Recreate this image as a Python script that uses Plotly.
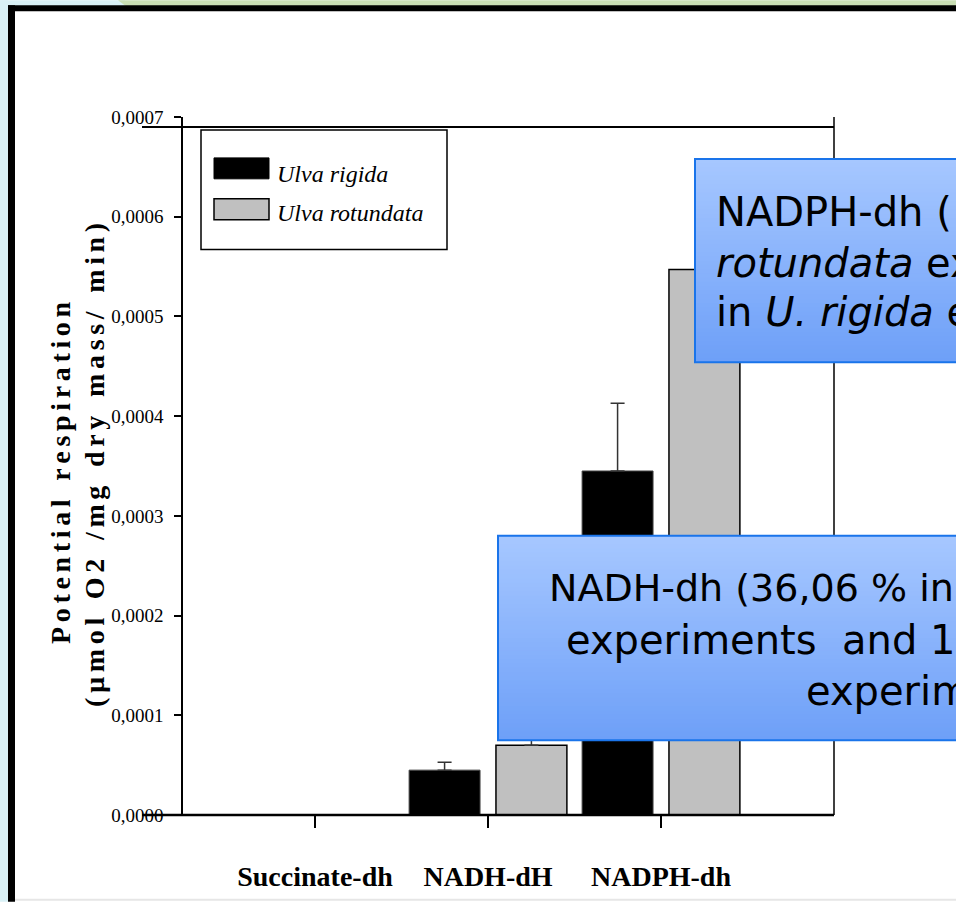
import plotly.graph_objects as go

# ---- data -------------------------------------------------------------
categories = ["Succinate-dh", "NADH-dH", "NADPH-dh"]
ulva_rigida = [0.0, 0.000045, 0.000345]
ulva_rigida_err = [0.0, 0.000008, 0.000068]
ulva_rotundata = [0.0, 0.000070, 0.000547]
ulva_rotundata_err = [0.0, 0.000012, 0.000050]
y_tick_vals = [0.0, 0.0001, 0.0002, 0.0003, 0.0004, 0.0005, 0.0006, 0.0007]
y_tick_text = ["0,0000", "0,0001", "0,0002", "0,0003", "0,0004", "0,0005", "0,0006", "0,0007"]

W, H = 956, 904
L, R, T, B = 183, 834, 117, 817          # plot area in pixels


def px(x):
    return (x - L) / (R - L)


def py(y):
    return (B - y) / (B - T)


x_pos = list(range(len(categories)))
bar_w = 0.41

fig = go.Figure()
fig.add_trace(go.Bar(
    x=x_pos, y=ulva_rigida, name="Ulva rigida", width=bar_w, offset=-0.456,
    marker=dict(color="black", line=dict(color="#444444", width=1)),
    error_y=dict(type="data", symmetric=False, array=ulva_rigida_err,
                 arrayminus=[0] * 3, color="#333333", thickness=1.5, width=7),
    showlegend=False,
))
fig.add_trace(go.Bar(
    x=x_pos, y=ulva_rotundata, name="Ulva rotundata", width=bar_w, offset=0.046,
    marker=dict(color="#c0c0c0", line=dict(color="black", width=1.5)),
    error_y=dict(type="data", symmetric=False, array=ulva_rotundata_err,
                 arrayminus=[0] * 3, color="#333333", thickness=1.5, width=7),
    showlegend=False,
))

serif = "Liberation Serif"

fig.update_layout(
    width=W, height=H, autosize=False,
    margin=dict(l=L, r=W - R, t=T, b=H - B, pad=0),
    paper_bgcolor="white", plot_bgcolor="rgba(0,0,0,0)",
    barmode="overlay",
    xaxis=dict(
        range=[-0.763, 3.0], tickvals=x_pos, ticktext=categories,
        ticks="outside", ticklen=12, tickwidth=1.5, tickcolor="black",
        showline=False, showgrid=False, zeroline=False,
        tickfont=dict(family=serif, size=28, color="black", weight="bold"),
        ticklabelstandoff=24,
    ),
    yaxis=dict(
        range=[0, 0.0007], tickvals=y_tick_vals, ticktext=y_tick_text,
        ticks="outside", ticklen=7, tickwidth=1.5, tickcolor="black",
        showline=True, linecolor="black", linewidth=1.5,
        showgrid=False, zeroline=False,
        tickfont=dict(family=serif, size=19, color="black"),
        ticklabelstandoff=7,
    ),
)

shapes = []

# page decoration: coloured strips and thick black border
shapes.append(dict(type="rect", xref="paper", yref="paper", layer="below",
                   x0=px(0), x1=px(8), y0=py(H), y1=py(0),
                   fillcolor="#d9f1f6", line=dict(width=0)))
shapes.append(dict(type="rect", xref="paper", yref="paper", layer="below",
                   x0=px(0), x1=px(125), y0=py(6), y1=py(0),
                   fillcolor="#d9f1f6", line=dict(width=0)))
shapes.append(dict(type="path", xref="paper", yref="paper", layer="below",
                   path=(f"M {px(118)} {py(0)} L {px(W)} {py(0)} L {px(W)} {py(6)} "
                         f"L {px(126)} {py(6)} Z"),
                   fillcolor="#c9deb4", line=dict(width=0)))
shapes.append(dict(type="rect", xref="paper", yref="paper", layer="below",
                   x0=px(8), x1=px(15), y0=py(H), y1=py(5),
                   fillcolor="black", line=dict(width=0)))
shapes.append(dict(type="rect", xref="paper", yref="paper", layer="below",
                   x0=px(8), x1=px(W), y0=py(11), y1=py(5),
                   fillcolor="black", line=dict(width=0)))
shapes.append(dict(type="line", xref="paper", yref="paper", layer="below",
                   x0=px(15), x1=px(W), y0=py(902), y1=py(902),
                   line=dict(color="#e6e6e6", width=2)))

# chart frame: top, bottom and right lines
shapes.append(dict(type="line", xref="paper", yref="paper", layer="above",
                   x0=px(142), x1=px(R), y0=py(127), y1=py(127),
                   line=dict(color="black", width=2)))
shapes.append(dict(type="line", xref="paper", yref="paper", layer="above",
                   x0=px(142), x1=px(R), y0=0, y1=0,
                   line=dict(color="black", width=2.5)))
shapes.append(dict(type="line", xref="paper", yref="paper", layer="above",
                   x0=1, x1=1, y0=0, y1=1,
                   line=dict(color="black", width=1.5)))

# legend box and swatches
shapes.append(dict(type="rect", xref="paper", yref="paper", layer="above",
                   x0=px(201), x1=px(447), y0=py(250), y1=py(130),
                   fillcolor="white", line=dict(color="black", width=1.5)))
shapes.append(dict(type="rect", xref="paper", yref="paper", layer="above",
                   x0=px(214), x1=px(269), y0=py(179), y1=py(158),
                   fillcolor="black", line=dict(color="black", width=1)))
shapes.append(dict(type="rect", xref="paper", yref="paper", layer="above",
                   x0=px(214), x1=px(269), y0=py(220), y1=py(199),
                   fillcolor="#c0c0c0", line=dict(color="black", width=1.5)))


def gradient_box(x0, x1, y0, y1, top_rgb, bot_rgb, n=48):
    """Blue callout box with a vertical gradient fill."""
    out = []
    step = (y1 - y0) / n
    for i in range(n):
        t = i / (n - 1)
        c = tuple(round(a + (b - a) * t) for a, b in zip(top_rgb, bot_rgb))
        ya = y0 + i * step
        yb = min(y1, ya + step + 0.8)
        out.append(dict(type="rect", xref="paper", yref="paper", layer="above",
                        x0=px(x0), x1=px(x1), y0=py(yb), y1=py(ya),
                        fillcolor=f"rgb{c}", line=dict(width=0)))
    out.append(dict(type="rect", xref="paper", yref="paper", layer="above",
                    x0=px(x0), x1=px(x1), y0=py(y1), y1=py(y0),
                    fillcolor="rgba(0,0,0,0)", line=dict(color="#1a74ea", width=2)))
    return out


shapes += gradient_box(695, 1010, 159, 363, (166, 199, 255), (110, 160, 248))
shapes += gradient_box(498, 1010, 537, 742, (166, 199, 255), (110, 160, 248))

fig.update_layout(shapes=shapes)

annotations = []


def text_at(x, baseline, text, size, family, color="black", weight="normal",
            style="normal", ratio=0.35):
    annotations.append(dict(
        xref="paper", yref="paper", x=px(x), y=py(baseline - ratio * size),
        xanchor="left", yanchor="middle", text=text, showarrow=False,
        font=dict(family=family, size=size, color=color, weight=weight, style=style),
    ))


# legend labels
text_at(275, 183, "Ulva rigida", 24, serif, style="italic")
text_at(275, 222, "Ulva rotundata", 24, serif, style="italic")

# y-axis title (two rotated lines, letter-spaced)
gap = "\u2006"
word_gap = "\u2006\u2006\u2006\u2006"


def spaced(words):
    return word_gap.join(gap.join(w) for w in words)


y_title_1 = spaced(["Potential", "respiration"])
y_title_2 = spaced(["(µmol", "O2", "/mg", "dry", "mass/", "min)"])

annotations.append(dict(
    xref="paper", yref="paper", x=px(61), y=py(473), xanchor="center", yanchor="middle",
    text=y_title_1, showarrow=False, textangle=-90,
    font=dict(family=serif, size=28, color="black", weight="bold"),
))
annotations.append(dict(
    xref="paper", yref="paper", x=px(94), y=py(466), xanchor="center", yanchor="middle",
    text=y_title_2, showarrow=False, textangle=-90,
    font=dict(family=serif, size=28, color="black", weight="bold"),
))

# callout texts
sans = "DejaVu Sans"
text_at(714, 226, "NADPH-dh (", 40, sans)
text_at(714, 277, "<i>rotundata</i> experiments", 40, sans)
text_at(714, 327, "in <i>U. rigida</i> experiments", 40, sans)
text_at(547, 603, "NADH-dh (36,06 % in", 38, sans)
text_at(564, 655, "experiments\u00a0 and 1", 40, sans)
text_at(804, 707, "experiments)", 40, sans)

fig.update_layout(annotations=annotations)

fig.write_html("out.html")
